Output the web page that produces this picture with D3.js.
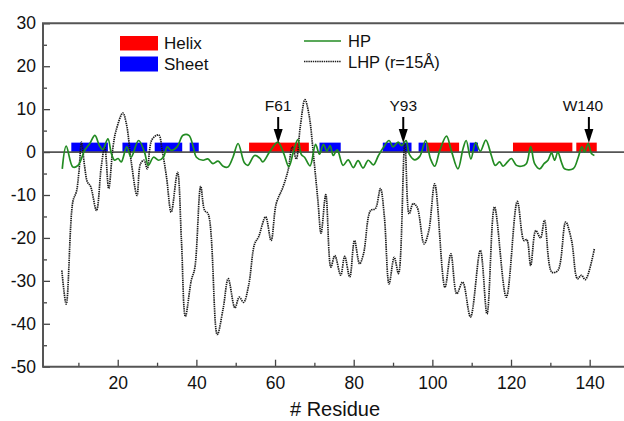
<!DOCTYPE html>
<html>
<head>
<meta charset="utf-8">
<script src="https://cdn.jsdelivr.net/npm/d3@7"></script>
<style>
  body { margin: 0; background: #fff; }
  svg { display: block; font-family: "Liberation Sans", Arial, sans-serif; }
</style>
</head>
<body>
<div class="chart"></div>
<script>
// secondary structure segments [start, end] in residue numbers
const helixSegments = [[53.4, 68.6], [98.5, 106.8], [120.5, 135.6], [136.6, 141.8]];
const sheetSegments = [[8.2, 17.5], [21.2, 27.5], [29.4, 36.4], [38.3, 40.6],
                       [71.3, 76.7], [87.4, 94.7], [96.5, 98.5], [109.5, 111.6]];
const barTop = 2.2;

// HP profile (residue, value)
const hpResidue = [5.9, 6.9, 8.6, 9.9, 11.6, 12.9, 14.2, 15.3, 16.2, 17.5, 18.4, 19.2, 20.1, 20.9,
  22.3, 23.4, 25.3, 26.8, 27.8, 29.1, 30.4, 31.6, 32.6, 33.6, 35.1, 36.6, 38.1, 39.2, 40.0, 41.7,
  42.9, 44.2, 45.5, 46.8, 48.0, 49.3, 50.6, 52.2, 53.1, 54.8, 56.1, 56.9, 58.6, 60.7, 62.2, 63.5,
  64.7, 65.8, 66.7, 67.5, 68.9, 70.3, 71.3, 72.3, 73.2, 74.0, 74.8, 75.8, 77.3, 78.6, 79.9, 81.1,
  82.4, 83.7, 85.0, 86.3, 87.5, 89.0, 90.0, 91.3, 92.2, 93.3, 94.2, 95.5, 96.8, 98.3, 99.5, 100.6,
  101.9, 103.6, 104.8, 106.5, 107.8, 108.6, 109.8, 111.0, 112.2, 113.6, 115.0, 116.0, 117.1, 118.0,
  119.1, 120.1, 121.4, 122.6, 123.9, 125.0, 126.0, 127.3, 128.4, 129.4, 130.3, 131.1, 131.9, 132.8,
  133.6, 135.8, 137.1, 138.0, 138.7, 139.6, 140.5, 141.2];
const hpValue = [-3.9, 1.4, -3.5, -3.1, 0.4, 2.0, 3.9, 1.6, 0.6, 3.1, -0.4, -1.9, -1.5, -2.3,
  1.2, -1.2, 2.7, 0, -3.1, -1.2, -1.9, -1.2, 1.2, 0.4, 1.2, 3.9, 3.9, 1.2, -1.2, -1.9,
  -1.6, -2.7, -2.1, -3.3, -3.5, -1.2, 2.0, -2.5, -3.1, -0.8, -1.4, -2.3, 0, 2.3, -0.3, -3.4,
  0.2, 2.9, -0.6, -1.2, -3.2, 1.8, -0.5, 1.8, 0.2, 1.5, -0.8, 0.5, -3.1, -1.8, -3.6, -2.0,
  -3.7, -1.9, -3.0, -0.8, 1.0, 2.7, 1.2, 2.3, 1.5, 2.7, -0.6, -1.8, -1.0, 2.7, -1.5, -3.3,
  0.4, 3.7, 0.4, -3.9, 0.8, 2.7, -1.6, 2.2, 0.2, 2.8, -0.8, -3.1, -2.3, -3.3,
  -2.3, -1.5, -3.1, -3.3, -2.7, 1.3, -2.7, -3.9, -2.7, -1.9, -0.2, -1.9, 0, -2.3,
  -3.9, -3.9, -1.2, 1.2, 0, 2.0, -0.4, -0.8];

// LHP (r = 15 A) profile
const lhpResidue = [5.8, 6.9, 8.6, 9.5, 10.1, 10.8, 11.6, 12.3, 13.1, 14.6, 15.8, 16.7, 17.7, 18.8,
  19.6, 21.3, 22.2, 23.5, 24.9, 25.8, 26.7, 27.5, 28.7, 30.4, 31.3, 32.4, 33.6, 35.2, 36.2, 37.2,
  38.7, 39.6, 41.1, 42.1, 43.0, 45.3, 46.8, 48.1, 49.8, 50.9, 52.0, 53.3, 54.8, 55.8, 57.6, 59.0,
  60.3, 62.0, 63.3, 64.4, 65.4, 66.4, 67.6, 68.6, 69.9, 70.9, 71.7, 72.9, 74.2, 75.2, 76.7, 77.7,
  79.0, 80.2, 81.5, 82.5, 84.3, 85.5, 86.8, 87.8, 89.0, 90.3, 91.4, 93.0, 94.1, 95.1, 96.1, 97.9,
  99.1, 100.6, 103.2, 104.7, 106.2, 107.7, 109.7, 112.2, 113.9, 115.8, 118.8, 121.6, 123.3, 124.0,
  125.0, 126.3, 127.5, 128.5, 130.4, 131.9, 133.9, 135.4, 136.9, 137.9, 138.9, 141.2];
const lhpValue = [-27.6, -35.4, -11.5, -9.2, -5.0, 2.3, -3.5, -7.0, -8.0, -13.6, -3.5, 1.2, -8.5, 1.2,
  5.1, 9.1, 6.6, -2.7, -10.1, -2.7, -1.9, -3.9, 2.9, 4.0, 0.4, -5.8, -14.0, -4.7, -20.6, -38.3,
  -29.9, -27.0, -8.0, -13.6, -14.4, -42.5, -36.5, -29.5, -36.3, -33.8, -35.0, -31.0, -21.4, -19.8, -15.1, -20.6,
  -12.0, -8.2, -4.3, 1.2, -1.6, 5.8, 12.2, 8.9, -1.9, -11.3, -18.9, -9.9, -26.8, -24.1, -28.7, -24.3,
  -29.1, -20.6, -26.0, -23.7, -13.6, -13.2, -8.5, -15.1, -30.7, -24.5, -28.3, 2.0, -14.4, -12.0, -12.8, -21.4,
  -18.3, -7.4, -31.5, -23.7, -33.0, -30.3, -38.4, -22.9, -37.7, -12.8, -33.8, -11.5, -20.6, -20.4,
  -26.4, -18.3, -20.0, -15.9, -28.0, -27.6, -16.3, -20.6, -29.5, -28.7, -29.7, -22.5];

const annotations = [{label: "F61", x: 60.8}, {label: "Y93", x: 92.6}, {label: "W140", x: 139.8}];

const xTicks = [20, 40, 60, 80, 100, 120, 140];
const xMinor = [10, 30, 50, 70, 90, 110, 130];
const yTicks = [-50, -40, -30, -20, -10, 0, 10, 20, 30];
const yMinor = [-45, -35, -25, -15, -5, 5, 15, 25];

const W = 624, H = 421;
const margin = {top: 23.3, left: 43, right: -5, bottom: 54.3};

const svg = d3.select(".chart").append("svg")
  .attr("width", W).attr("height", H);

const x = d3.scaleLinear().domain([1, 150]).range([margin.left, W - margin.right]);
const y = d3.scaleLinear().domain([-50, 30]).range([H - margin.bottom, margin.top]);

// secondary structure bars
svg.append("g").selectAll("rect.helix")
  .data(helixSegments).enter().append("rect")
  .attr("x", d => x(d[0])).attr("width", d => x(d[1]) - x(d[0]))
  .attr("y", y(barTop)).attr("height", y(-0.2) - y(barTop))
  .attr("fill", "#ff0000");
svg.append("g").selectAll("rect.sheet")
  .data(sheetSegments).enter().append("rect")
  .attr("x", d => x(d[0])).attr("width", d => x(d[1]) - x(d[0]))
  .attr("y", y(barTop)).attr("height", y(-0.2) - y(barTop))
  .attr("fill", "#0000ff");

// zero line
svg.append("line")
  .attr("x1", x(1)).attr("x2", W)
  .attr("y1", y(0)).attr("y2", y(0))
  .attr("stroke", "#555").attr("stroke-width", 1.6);

const line = d3.line()
  .x(d => x(d[0])).y(d => y(d[1]))
  .curve(d3.curveCatmullRom.alpha(0.5));

svg.append("path")
  .datum(d3.zip(lhpResidue, lhpValue))
  .attr("fill", "none")
  .attr("stroke", "#1a1a1a")
  .attr("stroke-width", 1.7)
  .attr("stroke-dasharray", "1.4 0.8")
  .attr("d", line);

svg.append("path")
  .datum(d3.zip(hpResidue, hpValue))
  .attr("fill", "none")
  .attr("stroke", "#228b22")
  .attr("stroke-width", 1.7)
  .attr("d", line);

// axes (plain hyphen for negatives, as in the original)
const fmt = d => String(d);
const xAxis = d3.axisBottom(x).tickValues(xTicks).tickFormat(fmt).tickSizeInner(-7).tickSizeOuter(0).tickPadding(10);
const xAxisMinor = d3.axisBottom(x).tickValues(xMinor).tickSizeInner(-4).tickSizeOuter(0).tickFormat("");
const yAxis = d3.axisLeft(y).tickValues(yTicks).tickFormat(fmt).tickSizeInner(-7).tickSizeOuter(0).tickPadding(7);
const yAxisMinor = d3.axisLeft(y).tickValues(yMinor).tickSizeInner(-4).tickSizeOuter(0).tickFormat("");

svg.append("g").attr("transform", `translate(0,${y(-50)})`).call(xAxis);
svg.append("g").attr("transform", `translate(0,${y(-50)})`).call(xAxisMinor);
svg.append("g").attr("transform", `translate(${x(1)},0)`).call(yAxis);
svg.append("g").attr("transform", `translate(${x(1)},0)`).call(yAxisMinor);

svg.selectAll(".domain").remove();
svg.selectAll(".tick line").attr("stroke", "#444").attr("stroke-width", 1.3);
svg.selectAll(".tick text").attr("font-size", 17.5).attr("fill", "#111")
  .attr("font-family", "'Liberation Sans', Arial, sans-serif");

// frame (left, bottom, top)
svg.append("path")
  .attr("d", `M${W},${y(30)}H${x(1)}V${y(-50)}H${W}`)
  .attr("fill", "none").attr("stroke", "#555").attr("stroke-width", 2);

svg.append("text")
  .attr("x", 335).attr("y", 416)
  .attr("text-anchor", "middle")
  .attr("font-size", 20).attr("fill", "#111")
  .text("# Residue");

// annotations with arrows
const labelShift = {W140: -6};
const ann = svg.append("g").selectAll("g").data(annotations).enter().append("g");
ann.append("text")
  .attr("x", d => x(d.x) + (labelShift[d.label] || 0)).attr("y", 110.5)
  .attr("text-anchor", "middle")
  .attr("font-size", 15.5).attr("fill", "#111")
  .text(d => d.label);
ann.append("line")
  .attr("x1", d => x(d.x)).attr("x2", d => x(d.x))
  .attr("y1", 117).attr("y2", 132)
  .attr("stroke", "#000").attr("stroke-width", 2);
ann.append("path")
  .attr("d", d => `M${x(d.x) - 4.5},${129}L${x(d.x) + 4.5},${129}L${x(d.x)},${143}Z`)
  .attr("fill", "#000");

// legend
const leg = svg.append("g");
leg.append("rect").attr("x", 120).attr("y", 36).attr("width", 38).attr("height", 14.5).attr("fill", "#ff0000");
leg.append("rect").attr("x", 120).attr("y", 56.5).attr("width", 38).attr("height", 15).attr("fill", "#0000ff");
leg.append("text").attr("x", 164).attr("y", 49).attr("font-size", 17).attr("fill", "#111").text("Helix");
leg.append("text").attr("x", 164).attr("y", 70).attr("font-size", 17).attr("fill", "#111").text("Sheet");

leg.append("line").attr("x1", 304).attr("x2", 341).attr("y1", 41).attr("y2", 41)
  .attr("stroke", "#228b22").attr("stroke-width", 1.7);
leg.append("line").attr("x1", 304).attr("x2", 341).attr("y1", 61.5).attr("y2", 61.5)
  .attr("stroke", "#1a1a1a").attr("stroke-width", 1.6).attr("stroke-dasharray", "1.4 0.8");
leg.append("text").attr("x", 348).attr("y", 47).attr("font-size", 16.5).attr("fill", "#111").text("HP");
leg.append("text").attr("x", 348).attr("y", 67.5).attr("font-size", 16.5).attr("fill", "#111").text("LHP (r=15Å)");
</script>
</body>
</html>
